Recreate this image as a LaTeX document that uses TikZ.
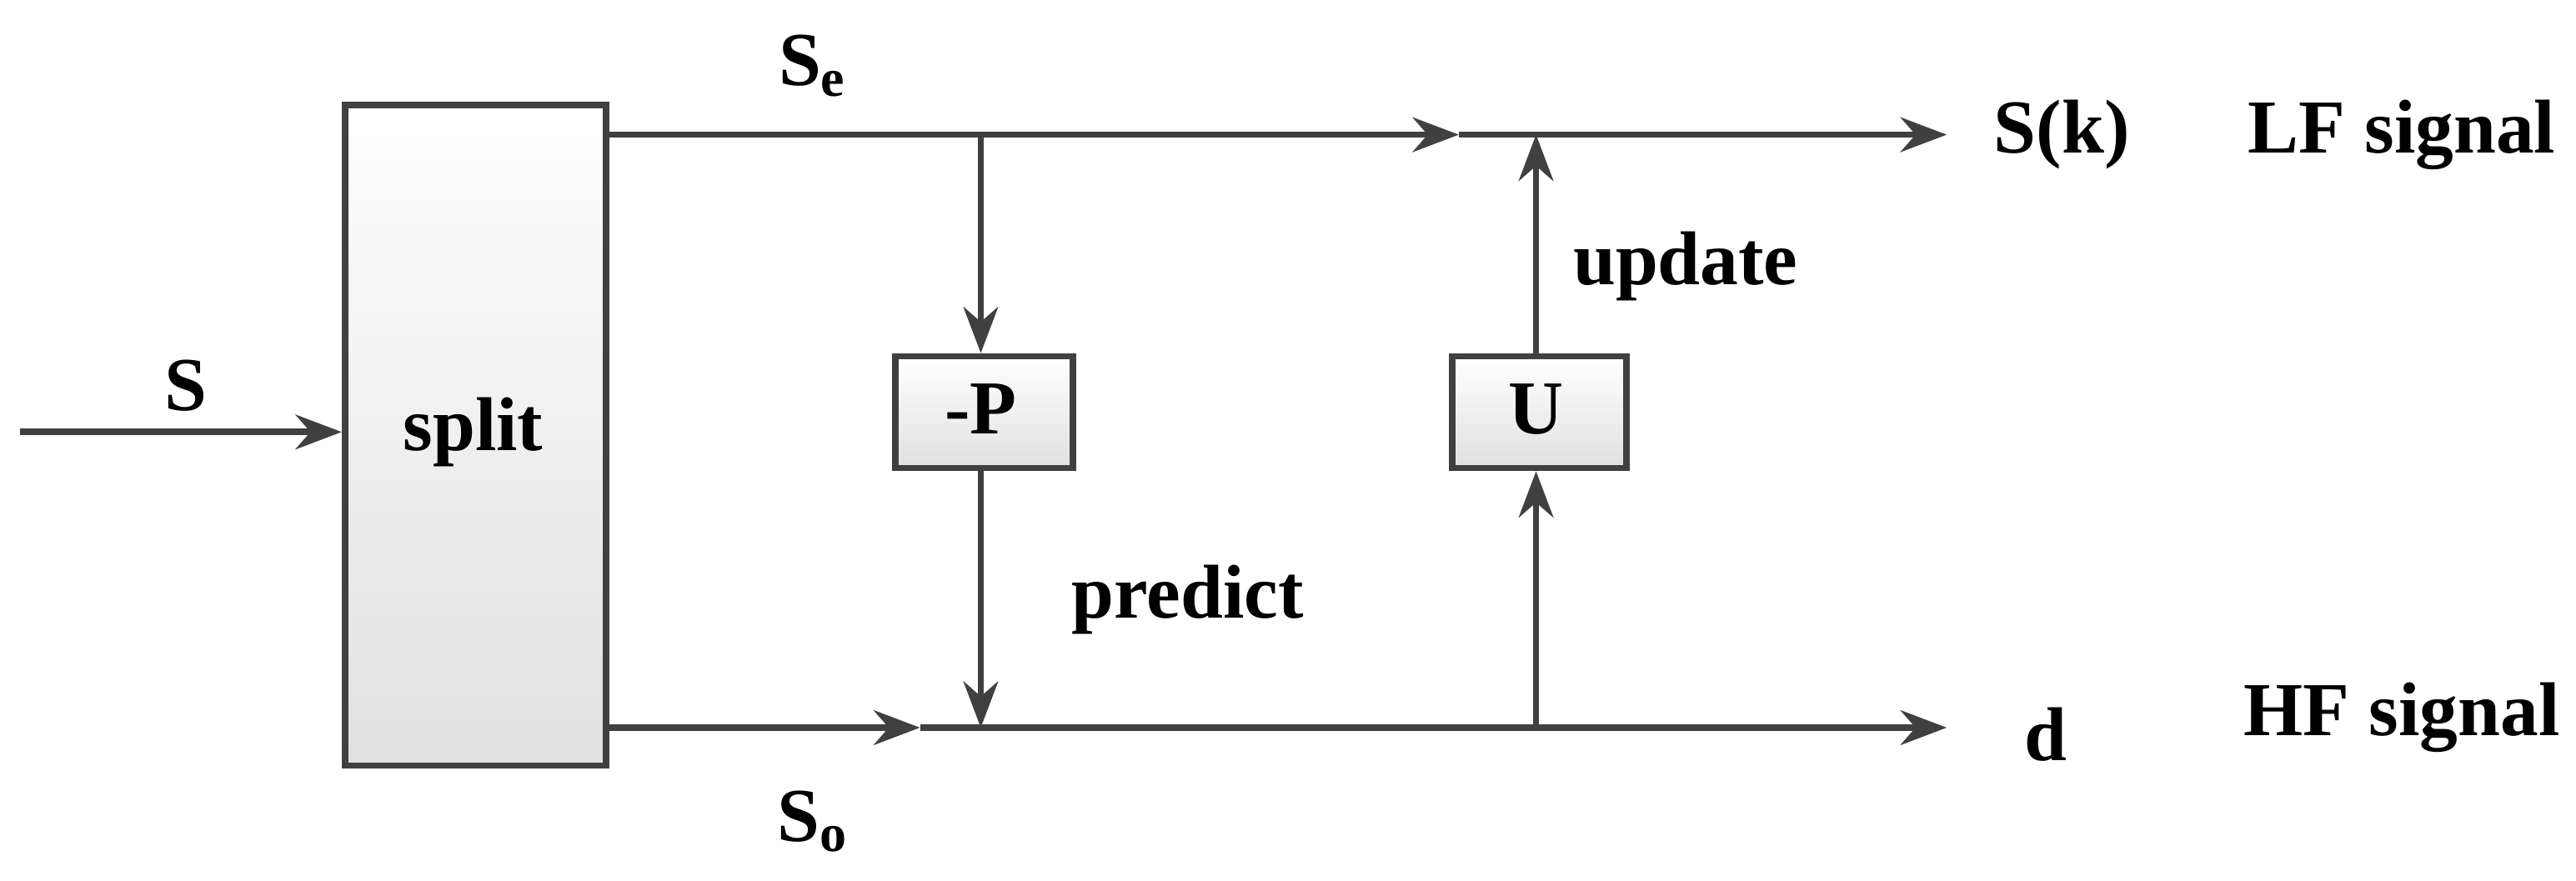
\documentclass[tikz,border=0pt]{standalone}
\usepackage{fontspec}
\setmainfont{Liberation Serif}
\usetikzlibrary{arrows.meta}
\begin{document}
\begin{tikzpicture}[x=0.01cm,y=-0.01cm,
  ln/.style={draw=black!75,line width=1.1pt},
  ar/.style={ln,-{Stealth[length=8pt,width=6pt]}},
  box/.style={draw=black!75,line width=1.1pt,top color=white,bottom color=black!12,inner sep=0pt},
  lab/.style={font=\fontsize{13.2}{15}\selectfont\bfseries,inner sep=0pt}]
\useasboundingbox (0,0) rectangle (1568,536);
\node[box,minimum width=1.59cm,minimum height=4.02cm,anchor=north west] (split) at (208,62) {};
\node[lab] at (288,263) {split};
\node[box,minimum width=1.08cm,minimum height=0.68cm,anchor=north west] (P) at (543,215) {};
\node[lab] at (597,249) {-P};
\node[box,minimum width=1.06cm,minimum height=0.68cm,anchor=north west] (U) at (882,215) {};
\node[lab] at (935,249) {U};
\coordinate (in) at (12,263);
\coordinate (se0) at (367,82);
\coordinate (sm) at (888,82);
\coordinate (se1) at (1185,82);
\coordinate (so0) at (367,443);
\coordinate (om) at (560,443);
\coordinate (so1) at (1185,443);
\coordinate (pt) at (597,82);
\coordinate (pb) at (597,443);
\coordinate (ut) at (935,82);
\coordinate (ub) at (935,443);
\draw[ar] (in) -- (split.west |- in);
\draw[ar] (se0) -- (sm);
\draw[ar] (sm) -- (se1);
\draw[ar] (so0) -- (om);
\draw[ar] (om) -- (so1);
\draw[ar] (pt) -- (pt |- P.north);
\draw[ar] (pt |- P.south) -- (pb);
\draw[ar] (ub) -- (ub |- U.south);
\draw[ar] (ub |- U.north) -- (ut);
\node[lab] at (113,235) {S};
\node[lab] at (495,40) {S\textsubscript{e}};
\node[lab] at (495,500) {S\textsubscript{o}};
\node[lab] at (1255,82) {S(k)};
\node[lab] at (1462,82) {LF signal};
\node[lab] at (1245,447) {d};
\node[lab] at (1462,437) {HF signal};
\node[lab] at (723,365) {predict};
\node[lab] at (1026,162) {update};
\end{tikzpicture}
\end{document}
